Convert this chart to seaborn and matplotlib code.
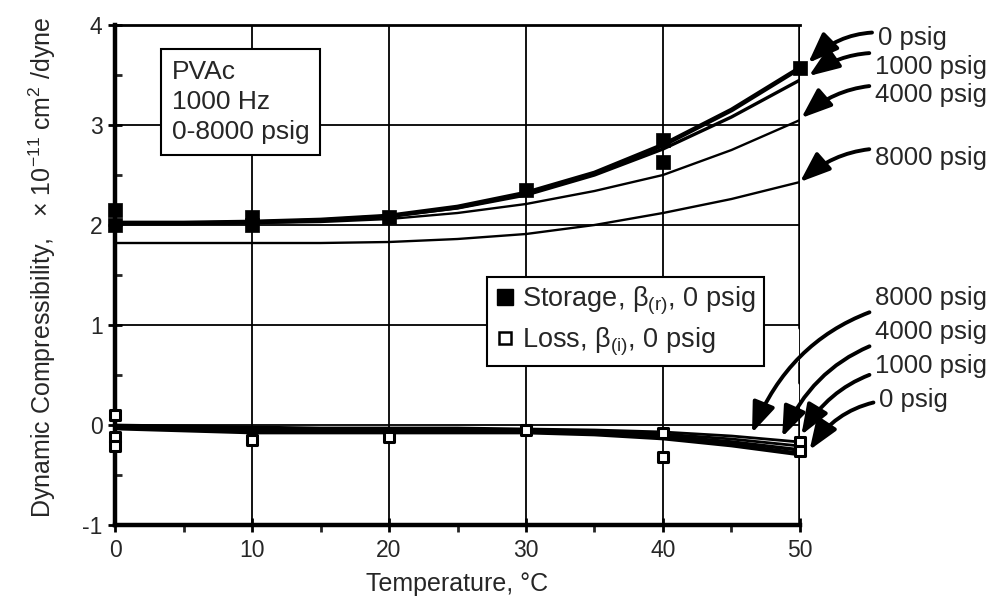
"""
PVAc dynamic compressibility vs temperature, 1000 Hz, 0-8000 psig.
Storage and loss components, smoothed curves per pressure plus 0 psig data points.
"""

import matplotlib
matplotlib.use("Agg")
import matplotlib.pyplot as plt
from matplotlib.lines import Line2D
import seaborn as sns
import pandas as pd

# Data
TEMPS = [0, 5, 10, 15, 20, 25, 30, 35, 40, 45, 50]

storage_0psig = [2.02, 2.02, 2.03, 2.05, 2.09, 2.18, 2.32, 2.52, 2.80, 3.15, 3.57]
storage_1000psig = [2.02, 2.02, 2.03, 2.05, 2.09, 2.17, 2.30, 2.50, 2.76, 3.08, 3.45]
storage_4000psig = [2.01, 2.01, 2.02, 2.03, 2.06, 2.12, 2.21, 2.34, 2.50, 2.75, 3.05]
storage_8000psig = [1.82, 1.82, 1.82, 1.82, 1.83, 1.86, 1.91, 2.00, 2.12, 2.26, 2.43]

loss_0psig = [-0.03, -0.05, -0.07, -0.07, -0.07, -0.07, -0.07, -0.09, -0.13, -0.20, -0.29]
loss_1000psig = [-0.02, -0.04, -0.05, -0.06, -0.06, -0.06, -0.06, -0.08, -0.11, -0.17, -0.25]
loss_4000psig = [-0.01, -0.02, -0.03, -0.04, -0.05, -0.05, -0.05, -0.06, -0.09, -0.14, -0.21]
loss_8000psig = [0.00, -0.01, -0.02, -0.03, -0.03, -0.03, -0.04, -0.05, -0.07, -0.11, -0.17]

# measured points, 0 psig
storage_pts_T = [0, 0, 10, 10, 20, 30, 40, 40, 50]
storage_pts_val = [2.00, 2.15, 2.00, 2.08, 2.08, 2.35, 2.85, 2.63, 3.57]
loss_pts_T = [0, 0, 0, 10, 20, 30, 40, 40, 50, 50]
loss_pts_val = [0.10, -0.12, -0.21, -0.15, -0.12, -0.05, -0.08, -0.32, -0.17, -0.26]

PRESSURES = ["0 psig", "1000 psig", "4000 psig", "8000 psig"]
STORAGE_LW = [3.4, 2.4, 1.7, 1.7]
LOSS_LW = [3.4, 2.6, 2.0, 2.0]

# arrow tips (T, value) and label anchors for the pressure callouts
upper_tips = [(50.6, 3.62), (50.65, 3.49), (50.1, 3.07), (50.0, 2.43)]
upper_text = [(55.7, 3.87), (55.5, 3.58), (55.5, 3.30), (55.5, 2.67)]
lower_tips = [(46.5, -0.08), (48.7, -0.12), (50.1, -0.10), (50.7, -0.25)]
lower_text = [(55.5, 1.27), (55.5, 0.93), (55.5, 0.59), (55.8, 0.25)]
lower_labels = ["8000 psig", "4000 psig", "1000 psig", "0 psig"]


def build_frame(kind, series):
    rows = []
    for p, vals in zip(PRESSURES, series):
        for t, v in zip(TEMPS, vals):
            rows.append({"kind": kind, "pressure": p, "T": t, "value": v})
    return pd.DataFrame(rows)


def main():
    sns.set_style("ticks")
    plt.rcParams["font.family"] = ["Liberation Sans", "DejaVu Sans"]
    plt.rcParams["mathtext.fontset"] = "custom"
    plt.rcParams["mathtext.rm"] = "Liberation Sans"
    plt.rcParams["mathtext.it"] = "Liberation Sans"
    plt.rcParams["axes.unicode_minus"] = False

    storage_df = build_frame("storage", [storage_0psig, storage_1000psig,
                                         storage_4000psig, storage_8000psig])
    loss_df = build_frame("loss", [loss_0psig, loss_1000psig,
                                   loss_4000psig, loss_8000psig])

    fig = plt.figure(figsize=(9.95, 6.04), dpi=100)
    ax = fig.add_axes([0.1156, 0.1308, 0.6884, 0.8278])

    black = {p: "black" for p in PRESSURES}
    sns.lineplot(data=storage_df, x="T", y="value", hue="pressure", size="pressure",
                 sizes=dict(zip(PRESSURES, STORAGE_LW)), palette=black,
                 legend=False, ax=ax, zorder=3)
    sns.lineplot(data=loss_df, x="T", y="value", hue="pressure", size="pressure",
                 sizes=dict(zip(PRESSURES, LOSS_LW)), palette=black,
                 legend=False, ax=ax, zorder=3)

    sns.scatterplot(x=storage_pts_T, y=storage_pts_val, marker="s", s=115,
                    color="black", edgecolor="black", linewidth=0.5, ax=ax,
                    zorder=4, clip_on=False)
    sns.scatterplot(x=loss_pts_T, y=loss_pts_val, marker="s", s=60,
                    facecolor="white", edgecolor="black", linewidth=2.2, ax=ax,
                    zorder=5, clip_on=False)

    ax.set_xlim(0, 50)
    ax.set_ylim(-1, 4)
    ax.set_xticks(range(0, 51, 10))
    ax.set_xticks(range(5, 50, 10), minor=True)
    ax.set_yticks(range(-1, 5))
    ax.set_yticks([-0.5, 0.5, 1.5, 2.5, 3.5], minor=True)
    ax.grid(True, which="major", color="black", lw=1.3)
    ax.set_axisbelow(True)

    ax.tick_params(axis="both", which="major", direction="inout", length=10,
                   width=2, labelsize=16.5, color="black")
    ax.tick_params(axis="x", which="minor", direction="out", length=5, width=2)
    ax.tick_params(axis="y", which="minor", direction="in", length=5, width=2)
    ax.tick_params(axis="x", which="major", pad=5)
    ax.tick_params(axis="y", which="major", pad=4)

    for side, lw in [("left", 3.2), ("bottom", 3.2), ("top", 2.0)]:
        ax.spines[side].set_linewidth(lw)
        ax.spines[side].set_color("black")
    ax.spines["right"].set_visible(False)
    # right border is broken in the scan
    for lo, hi in [(0.0, 0.234), (0.284, 0.324), (0.394, 1.0)]:
        ax.axvline(50, ymin=lo, ymax=hi, color="black", lw=2.6, zorder=2.5)

    ax.set_xlabel("Temperature, \u00b0C", fontsize=18, labelpad=7)
    ax.set_ylabel("Dynamic Compressibility,   \u00d7 10$^{-11}$ cm$^{2}$ /dyne",
                  fontsize=18)
    ax.yaxis.set_label_coords(-0.083, 0.515)

    ax.text(0.083, 0.93, "PVAc\n1000 Hz\n0-8000 psig", transform=ax.transAxes,
            fontsize=19, va="top", ha="left", linespacing=1.32, zorder=6,
            bbox=dict(boxstyle="square,pad=0.4", fc="white", ec="black", lw=1.5))

    handles = [
        Line2D([], [], ls="none", marker="s", ms=11, mfc="black", mec="black"),
        Line2D([], [], ls="none", marker="s", ms=9, mfc="white", mec="black", mew=1.8),
    ]
    labels = ["Storage, \u03b2$_{(r)}$, 0 psig", "Loss, \u03b2$_{(i)}$, 0 psig"]
    leg = ax.legend(handles, labels, loc="upper left", bbox_to_anchor=(0.543, 0.496),
                    fontsize=19.5, frameon=True, fancybox=False, framealpha=1,
                    edgecolor="black", handlelength=0.7, handletextpad=0.3,
                    labelspacing=0.3, borderpad=0.3, borderaxespad=0)
    leg.get_frame().set_linewidth(1.5)
    leg.set_zorder(6)

    arrow = dict(arrowstyle="-|>,head_length=1.0,head_width=0.38", color="black",
                 lw=2.8, shrinkA=2, shrinkB=0)
    for p, tip, txt in zip(PRESSURES, upper_tips, upper_text):
        ax.annotate(p, xy=tip, xytext=txt, fontsize=18.5, ha="left", va="center",
                    annotation_clip=False,
                    arrowprops=dict(arrow, connectionstyle="arc3,rad=0.3"))
    for p, tip, txt in zip(lower_labels, lower_tips, lower_text):
        ax.annotate(p, xy=tip, xytext=txt, fontsize=18.5, ha="left", va="center",
                    annotation_clip=False,
                    arrowprops=dict(arrow, connectionstyle="arc3,rad=0.3"))

    fig.savefig("out.png", dpi=100)
    plt.close(fig)


if __name__ == "__main__":
    main()
